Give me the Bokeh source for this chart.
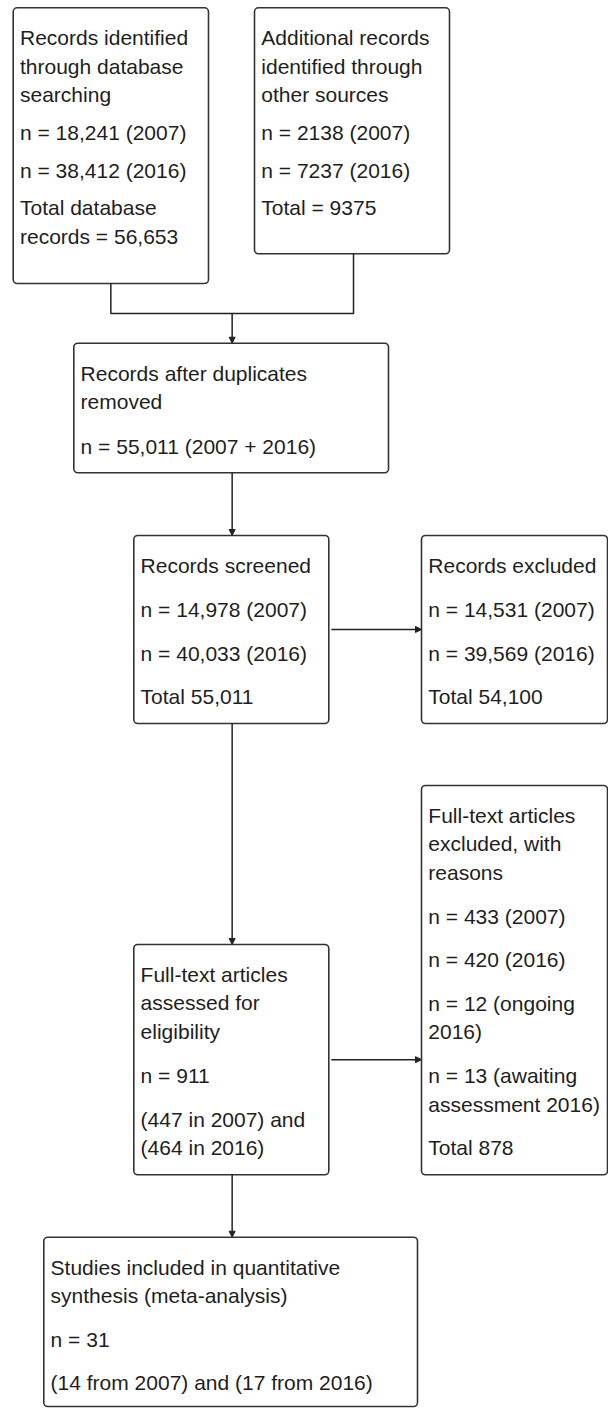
from bokeh.plotting import figure
from bokeh.models import Range1d, Arrow, NormalHead, ColumnDataSource
from bokeh.embed import file_html
from bokeh.resources import INLINE
from bokeh.core.properties import value

# ---------------- data: the texts of each box (paragraphs -> lines) ----------------
db_records = [["Records identified", "through database", "searching"],
              ["n = 18,241 (2007)"], ["n = 38,412 (2016)"],
              ["Total database", "records = 56,653"]]
other_records = [["Additional records", "identified through", "other sources"],
                 ["n = 2138 (2007)"], ["n = 7237 (2016)"], ["Total = 9375"]]
dedup_records = [["Records after duplicates", "removed"],
                 ["n = 55,011 (2007 + 2016)"]]
screened_records = [["Records screened"], ["n = 14,978 (2007)"],
                    ["n = 40,033 (2016)"], ["Total 55,011"]]
excluded_records = [["Records excluded"], ["n = 14,531 (2007)"],
                    ["n = 39,569 (2016)"], ["Total 54,100"]]
fulltext_assessed = [["Full-text articles", "assessed for", "eligibility"],
                     ["n = 911"], ["(447 in 2007) and", "(464 in 2016)"]]
fulltext_excluded = [["Full-text articles", "excluded, with", "reasons"],
                     ["n = 433 (2007)"], ["n = 420 (2016)"],
                     ["n = 12 (ongoing", "2016)"],
                     ["n = 13 (awaiting", "assessment 2016)"], ["Total 878"]]
included_studies = [["Studies included in quantitative", "synthesis (meta-analysis)"],
                    ["n = 31"], ["(14 from 2007) and (17 from 2016)"]]

# ---------------- layout (page pixel coordinates) ----------------
FONT = "Liberation Sans"
FS = 21.0
LINE_STEP = 28.3
FIRST = 22.6
CAP_HALF = 0.358 * FS

# name: (texts, left, top, right, bottom, paragraph step)
boxes = {
    "db":       (db_records,        12.7,   7.3, 208.0,  283.0, 37.8),
    "other":    (other_records,    254.0,   7.3, 449.0,  253.3, 37.8),
    "dedup":    (dedup_records,     73.3, 342.7, 388.0,  472.3, 44.5),
    "screen":   (screened_records, 133.3, 535.0, 328.3,  723.0, 43.7),
    "excl":     (excluded_records, 421.0, 535.0, 607.0,  723.0, 43.7),
    "ft":       (fulltext_assessed,133.3, 944.0, 328.3, 1174.3, 44.2),
    "ftexcl":   (fulltext_excluded,421.0, 785.0, 607.0, 1174.3, 43.8),
    "incl":     (included_studies,  43.3,1236.7, 417.0, 1406.0, 43.4),
}

W, H = 608, 1408
p = figure(width=W, height=H, output_backend="svg", toolbar_location=None,
           x_range=Range1d(0, W), y_range=Range1d(H, 0),
           x_axis_location=None, y_axis_location=None, min_border=0,
           outline_line_color=None, background_fill_color="white")
p.grid.visible = False

# boxes
bsrc = ColumnDataSource(dict(
    left=[b[1] for b in boxes.values()], top=[b[2] for b in boxes.values()],
    right=[b[3] for b in boxes.values()], bottom=[b[4] for b in boxes.values()]))
p.quad(left="left", right="right", top="top", bottom="bottom", source=bsrc,
       fill_color="white", line_color="#333333", line_width=1.6, border_radius=4)

# texts
tx, ty, tt = [], [], []
for texts, l, t, r, b, pstep in boxes.values():
    y = t + FIRST
    for i, para in enumerate(texts):
        if i > 0:
            y += pstep
        for j, line in enumerate(para):
            if j > 0:
                y += LINE_STEP
            tx.append(l + 6.8)
            ty.append(y + CAP_HALF)
            tt.append(line)
p.text(x=tx, y=ty, text=tt, text_font=value(FONT), text_font_size=f"{FS}px",
       text_baseline="alphabetic", text_align="left", text_color="#1e1e1e")

# connectors
LC = "#222222"
def cx(name):
    b = boxes[name]
    return (b[1] + b[3]) / 2
def cy(name):
    b = boxes[name]
    return (b[2] + b[4]) / 2

join_y = 313.0
p.line([cx("db"), cx("db"), cx("other") + 1.5, cx("other") + 1.5],
       [boxes["db"][4], join_y, join_y, boxes["other"][4]], line_color=LC, line_width=1.5)

def arrow(x0, y0, x1, y1):
    p.add_layout(Arrow(end=NormalHead(size=6, fill_color=LC, line_color=LC, line_width=1),
                       x_start=x0, y_start=y0, x_end=x1, y_end=y1,
                       line_color=LC, line_width=1.5))

mid_x = cx("dedup") + 1.0
arrow(mid_x, join_y, mid_x, boxes["dedup"][2])
arrow(mid_x, boxes["dedup"][4], mid_x, boxes["screen"][2])
arrow(mid_x, boxes["screen"][4], mid_x, boxes["ft"][2])
arrow(mid_x, boxes["ft"][4], mid_x, boxes["incl"][2])
arrow(boxes["screen"][3] + 2.5, cy("screen"), boxes["excl"][1], cy("screen"))
arrow(boxes["ft"][3] + 2.5, cy("ft"), boxes["ftexcl"][1], cy("ft"))

open("out.html", "w").write(file_html(p, INLINE))
